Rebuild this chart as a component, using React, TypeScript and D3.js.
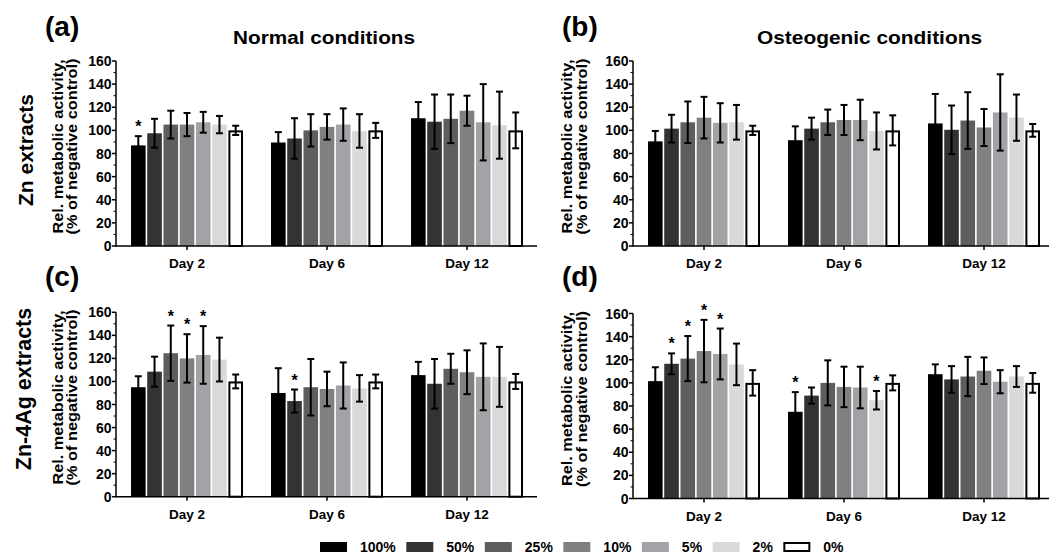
import React from 'react';
import * as d3 from 'd3';

const days = ['Day 2', 'Day 6', 'Day 12'];
const concentrations = ['100%', '50%', '25%', '10%', '5%', '2%', '0%'];
const barColors = ['#000000', '#333333', '#5e5e5e', '#808080', '#a3a3a7', '#d9d9d9', '#ffffff'];
const yTicks = [0, 20, 40, 60, 80, 100, 120, 140, 160];
const yMinorTicks = [10, 30, 50, 70, 90, 110, 130, 150];

// (a) Zn extracts, normal conditions: rows = days, cols = concentrations
const aMeans = [
  [87, 97.5, 105, 105, 107, 105, 100],
  [89.5, 93, 100, 103, 105, 99.5, 100],
  [110.5, 107.5, 110, 117, 107, 104.5, 100],
];
const aSD = [
  [8, 12.5, 12, 10, 9, 7.5, 4],
  [9, 17.5, 14, 11, 14, 14.5, 6.5],
  [14, 23.5, 21, 13, 33, 29, 15.5],
];
const aStars = [[0, 0]];

// (b) Zn extracts, osteogenic conditions
const bMeans = [
  [90.5, 101.5, 107, 111, 106.5, 107, 100],
  [91.5, 101.5, 107, 109, 109, 99.5, 100],
  [106, 100.5, 108.5, 102.5, 115.5, 111, 100],
];
const bSD = [
  [9, 12, 18, 18, 17, 15, 4],
  [12, 9.5, 11, 13, 17.5, 16, 13],
  [25.5, 21, 24.5, 16, 33, 20, 5.5],
];
const bStars: number[][] = [];

// (c) Zn-4Ag extracts, normal conditions
const cMeans = [
  [95, 108.5, 124.5, 120, 123, 119, 100],
  [90, 83, 95, 93.5, 96.5, 94, 100],
  [105.5, 98, 111, 108, 104, 104, 100],
];
const cSD = [
  [9.5, 13, 24, 21, 25, 19, 6],
  [21.5, 10, 24.5, 15, 20, 11.5, 6],
  [11.5, 21.5, 13, 19, 29, 26, 6.5],
];
const cStars = [[0, 2], [0, 3], [0, 4], [1, 1]];

// (d) Zn-4Ag extracts, osteogenic conditions
const dMeans = [
  [101.5, 116.5, 121, 127.5, 125, 116, 100],
  [75, 89, 100, 96.5, 96, 85, 100],
  [107.5, 103, 105.5, 110.5, 101, 105.5, 100],
];
const dSD = [
  [12, 9, 19.5, 27, 22, 18, 11],
  [17, 7, 19.5, 17.5, 18, 8, 6.5],
  [8.5, 11.5, 17, 11.5, 10, 9, 8.5],
];
const dStars = [[0, 1], [0, 2], [0, 3], [0, 4], [1, 0], [1, 5]];

const FONT = "'Liberation Sans', Arial, Helvetica, sans-serif";

type PanelProps = {
  x0: number;
  yTop: number;
  yBot: number;
  means: number[][];
  sds: number[][];
  stars: number[][];
  labelX1: number;
  labelX2: number;
};

function Panel({ x0, yTop, yBot, means, sds, stars, labelX1, labelX2 }: PanelProps) {
  const axisLen = 421;
  const y = d3.scaleLinear().domain([0, 160]).range([yBot, yTop]);
  const x = d3.scaleBand<string>().domain(days).range([x0 + 1, x0 + axisLen]).paddingInner(0.2).paddingOuter(0.1);
  const inner = d3.scaleBand<string>().domain(concentrations).range([0, x.bandwidth()]).paddingInner(0.1);
  const bw = inner.bandwidth();
  const starSet = new Set(stars.map((s) => s[0] + '-' + s[1]));
  const midY = (yTop + yBot) / 2 - 7;
  return (
    <g>
      {days.map((d, di) =>
        concentrations.map((c, ci) => {
          const m = means[di][ci];
          const bx = (x(d) as number) + (inner(c) as number);
          const top = y(m);
          const white = ci === concentrations.length - 1;
          return (
            <rect
              key={d + c}
              x={white ? bx + 1 : bx}
              y={white ? top + 1 : top}
              width={white ? bw - 2 : bw}
              height={white ? yBot - top - 1 : yBot - top}
              fill={barColors[ci]}
              stroke={white ? '#000' : 'none'}
              strokeWidth={white ? 2 : 0}
            />
          );
        })
      )}
      {days.map((d, di) =>
        concentrations.map((c, ci) => {
          const m = means[di][ci];
          const s = sds[di][ci];
          const cx = (x(d) as number) + (inner(c) as number) + bw / 2;
          const yHi = y(m + s);
          const yLo = y(m - s);
          return (
            <g key={'e' + d + c} stroke="#000" strokeWidth={2}>
              <line x1={cx} x2={cx} y1={yHi} y2={yLo} />
              <line x1={cx - 3.5} x2={cx + 3.5} y1={yHi} y2={yHi} />
              <line x1={cx - 3.5} x2={cx + 3.5} y1={yLo} y2={yLo} />
              {starSet.has(di + '-' + ci) && (
                <text x={cx} y={yHi - 4} textAnchor="middle" fontSize={16} fontWeight="bold" fontFamily={FONT} stroke="none" fill="#000">
                  *
                </text>
              )}
            </g>
          );
        })
      )}
      {/* axes */}
      <line x1={x0} x2={x0} y1={yBot + 0.75} y2={yTop} stroke="#000" strokeWidth={1.5} />
      <line x1={x0} x2={x0 + axisLen} y1={yBot} y2={yBot} stroke="#000" strokeWidth={1.5} />
      {yTicks.map((t) => (
        <g key={'t' + t}>
          <line x1={x0 - 4} x2={x0} y1={y(t)} y2={y(t)} stroke="#000" strokeWidth={1.5} />
          <text x={x0 - 4.5} y={y(t)} dy="0.36em" textAnchor="end" fontSize={14} fontWeight="bold" fontFamily={FONT} fill="#000">
            {t}
          </text>
        </g>
      ))}
      {yMinorTicks.map((t) => (
        <line key={'m' + t} x1={x0 - 2.5} x2={x0} y1={y(t)} y2={y(t)} stroke="#000" strokeWidth={1} />
      ))}
      {days.map((d) => {
        const cx = (x(d) as number) + x.bandwidth() / 2;
        return (
          <g key={'x' + d}>
            <line x1={cx} x2={cx} y1={yBot} y2={yBot + 4} stroke="#000" strokeWidth={1.5} />
            <text x={cx} y={yBot + 22} textAnchor="middle" fontSize={13.5} fontWeight="bold" fontFamily={FONT} fill="#000">
              {d}
            </text>
          </g>
        );
      })}
      <text
        transform={`translate(${labelX1},${midY}) rotate(-90)`}
        x={-87}
        textLength={174}
        lengthAdjust="spacingAndGlyphs"
        fontSize={14}
        fontWeight="bold"
        fontFamily={FONT}
        fill="#000"
      >
        Rel. metabolic activity,
      </text>
      <text
        transform={`translate(${labelX2},${midY}) rotate(-90)`}
        x={-88}
        textLength={176}
        lengthAdjust="spacingAndGlyphs"
        fontSize={14}
        fontWeight="bold"
        fontFamily={FONT}
        fill="#000"
      >
        (% of negative control)
      </text>
    </g>
  );
}

function measure(text: string, font: string): number {
  if (typeof document === 'undefined') return text.length * 8;
  const canvas = document.createElement('canvas');
  const ctx = canvas.getContext('2d');
  if (!ctx) return text.length * 8;
  ctx.font = font;
  return ctx.measureText(text).width;
}

function Legend() {
  const legendFont = `bold 14px ${FONT}`;
  let cursor = 320;
  const items = concentrations.map((c, i) => {
    const bx = cursor;
    const tx = bx + 27 + 13;
    const w = measure(c, legendFont);
    cursor = tx + w + 10.5;
    return { c, i, bx, tx };
  });
  const last = concentrations.length - 1;
  return (
    <g>
      {items.map(({ c, i, bx, tx }) => (
        <g key={'l' + c}>
          <rect
            x={i === last ? bx + 1 : bx}
            y={i === last ? 543 : 542}
            width={i === last ? 25 : 27}
            height={i === last ? 8 : 10}
            fill={barColors[i]}
            stroke={i === last ? '#000' : 'none'}
            strokeWidth={2}
          />
          <text x={tx} y={552} fontSize={14} fontWeight="bold" fontFamily={FONT} fill="#000">
            {c}
          </text>
        </g>
      ))}
    </g>
  );
}

export default function App() {
  return (
    <svg width={1049} height={557} style={{ position: 'absolute', left: 0, top: 0, background: '#fff' }}>
      <rect x={0} y={0} width={1049} height={557} fill="#fff" />
      <text x={45} y={36} fontSize={28} fontWeight="bold" fontFamily={FONT}>(a)</text>
      <text x={562} y={36} fontSize={28} fontWeight="bold" fontFamily={FONT}>(b)</text>
      <text x={45} y={286} fontSize={28} fontWeight="bold" fontFamily={FONT}>(c)</text>
      <text x={562} y={286} fontSize={28} fontWeight="bold" fontFamily={FONT}>(d)</text>
      <text x={233} y={44} textLength={182} lengthAdjust="spacingAndGlyphs" fontSize={18} fontWeight="bold" fontFamily={FONT}>Normal conditions</text>
      <text x={757} y={44} textLength={225} lengthAdjust="spacingAndGlyphs" fontSize={18} fontWeight="bold" fontFamily={FONT}>Osteogenic conditions</text>
      <text transform="translate(33,150) rotate(-90)" textAnchor="middle" fontSize={21} fontWeight="bold" fontFamily={FONT}>Zn extracts</text>
      <text transform="translate(31,389) rotate(-90)" textAnchor="middle" fontSize={21.5} fontWeight="bold" fontFamily={FONT}>Zn-4Ag extracts</text>
      <Panel x0={116} yTop={61} yBot={246} means={aMeans} sds={aSD} stars={aStars} labelX1={63} labelX2={77} />
      <Panel x0={633} yTop={61} yBot={246} means={bMeans} sds={bSD} stars={bStars} labelX1={572} labelX2={587} />
      <Panel x0={116} yTop={312.3} yBot={496.7} means={cMeans} sds={cSD} stars={cStars} labelX1={63} labelX2={77} />
      <Panel x0={633} yTop={313.5} yBot={498.5} means={dMeans} sds={dSD} stars={dStars} labelX1={572} labelX2={587} />
      <Legend />
    </svg>
  );
}
